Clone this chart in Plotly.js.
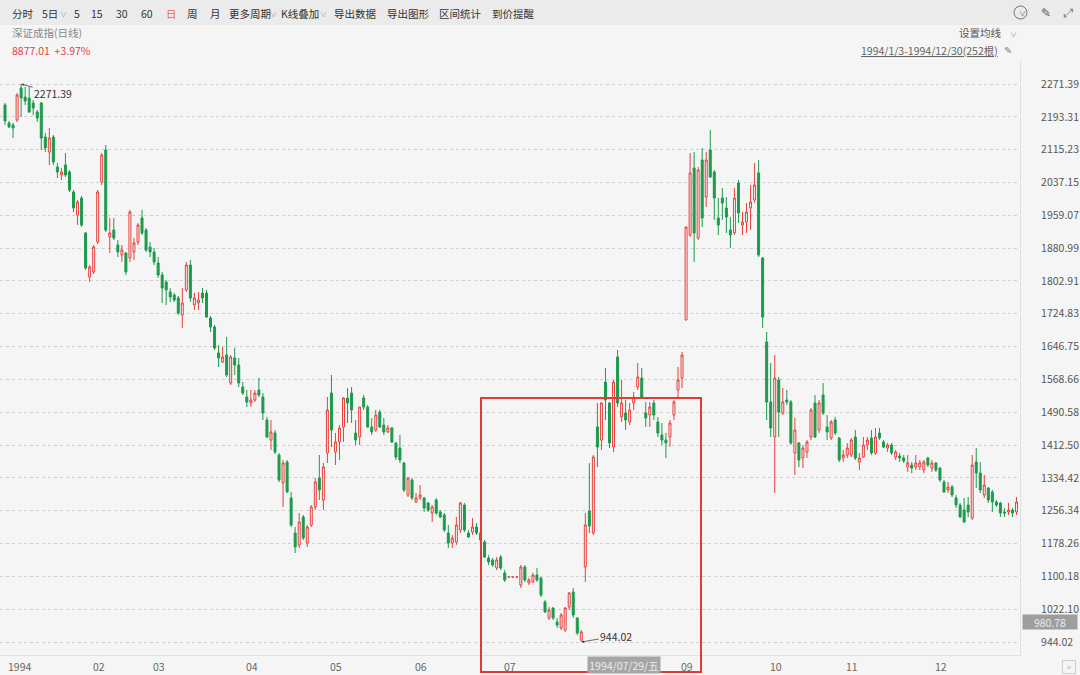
<!DOCTYPE html>
<html>
<head>
<meta charset="utf-8">
<script src="https://cdn.plot.ly/plotly-3.0.1.min.js"></script>
<style>
html,body{margin:0;padding:0;background:#f5f5f5;}
#chart{width:1080px;height:675px;}
</style>
</head>
<body>
<div id="chart"></div>
<script>
// ---------------- DATA ----------------
const indexName = "深证成指(日线)";
const lastQuote = "8877.01  +3.97%";
const periodText = "1994/1/3-1994/12/30(252根)";
const monthLabels = ["1994","02","03","04","05","06","07","08","09","10","11","12"];
const monthStart  = [0, 21, 36, 59, 80, 101, 123, 144, 167, 189, 208, 230];
const hiddenMonth = "08"; // covered by the crosshair date box in the reference
const yTicks = [944.02,1022.10,1100.18,1178.26,1256.34,1334.42,1412.50,1490.58,1568.66,1646.75,1724.83,1802.91,1880.99,1959.07,2037.15,2115.23,2193.31,2271.39];
const highPoint = {idx: 4, value: 2271.39};
const lowPoint  = {idx: 143, value: 944.02};
const crossPrice = "980.78";
const crossDate = "1994/07/29/五";

const open = [
2221.4,2178.6,2173.9,2185.8,2261.9,2240.5,2238.1,2226.2,2204.8,2226.2,2145.3,2109.6,2145.3,2073.9,2054.9,2078.7,2062.1,2014.5,1959.8,2000.2,1917.0,
1812.3,1824.2,1895.5,2038.3,2114.4,1907.4,1924.1,1888.4,1864.6,1869.4,1857.5,1871.8,1895.5,1952.6,1924.1,
1883.6,1871.8,1845.6,1817.1,1800.4,1776.6,1769.5,1762.3,1721.9,1781.4,1840.8,1745.7,1750.4,1774.2,1774.2,1714.8,1693.3,1631.5,1610.1,1626.7,1560.1,1619.6,1602.9,
1550.6,1526.8,1512.6,1519.7,1543.5,1526.8,1472.1,1424.5,1441.2,1388.9,1322.3,1372.2,1286.6,1203.3,1174.8,1241.4,1179.5,1222.3,1265.2,1334.1,1281.8,
1393.6,1536.3,1396.0,1419.8,1455.5,1524.4,1536.3,1441.2,1431.7,1524.4,1503.0,1455.5,1448.3,1491.1,1460.2,1443.6,1453.1,1417.4,1405.5,1369.8,1293.7,
1329.4,1277.1,1286.6,1286.6,1274.7,1250.9,1281.8,1253.3,1246.1,1203.3,1179.5,1181.9,1210.4,1269.9,1203.3,1205.7,1217.6,1203.3,1181.9,1143.8,1139.1,1120.1,
1146.2,1108.2,1098.6,1098.6,1098.6,1079.6,1122.4,1084.4,1086.8,1103.4,1096.3,1039.2,1001.1,1024.9,991.6,977.3,972.6,1027.3,1063.0,1001.1,948.8,
1122.4,1255.6,1203.3,1455.5,1424.5,1562.5,1512.6,1407.9,1622.0,1479.3,1488.8,1467.4,1512.6,1550.6,1572.0,1488.8,1484.0,1512.6,1467.4,1436.5,1424.5,1431.7,1484.0,
1543.5,1572.0,1710.0,1912.2,2071.6,1905.1,2090.6,2002.6,2114.4,2062.1,1952.6,2000.2,1976.4,1924.1,1917.0,2035.9,1936.0,1943.1,1976.4,1995.5,2059.7,1857.5,
1657.7,1514.9,1431.7,1567.3,1488.8,1519.7,1514.9,1393.6,1417.4,1381.7,1396.0,1431.7,1512.6,1448.3,1531.6,1455.5,1429.3,1472.1,1429.3,
1381.7,1388.9,1388.9,1431.7,1372.2,1384.1,1412.6,1429.3,1393.6,1441.2,1419.8,1405.5,1412.6,1384.1,1386.5,1381.7,1360.3,1365.1,1360.3,1360.3,1353.2,1381.7,
1357.9,1369.8,1357.9,1324.6,1305.6,1312.7,1286.6,1269.9,1258.0,1269.9,1239.0,1372.2,1346.0,1293.7,1310.3,1300.8,1277.1,1274.7,1253.3,1253.3,1258.0,1253.3
];
const high = [
2226.2,2183.4,2178.6,2250.0,2271.39,2264.3,2264.3,2233.3,2209.5,2228.6,2154.8,2166.7,2150.1,2083.5,2071.6,2107.2,2066.8,2019.2,1995.5,2005.0,1919.3,
1840.8,1888.4,2019.2,2107.2,2126.3,1952.6,1952.6,1900.3,1888.4,1871.8,1971.7,1905.1,1940.7,1971.7,1928.8,
1895.5,1881.3,1859.9,1824.2,1805.2,1786.1,1774.2,1767.1,1786.1,1848.0,1852.7,1774.2,1776.6,1786.1,1781.4,1719.5,1698.1,1650.5,1645.8,1669.6,1626.7,1643.4,1619.6,
1562.5,1543.5,1543.5,1543.5,1572.0,1536.3,1479.3,1472.1,1448.3,1393.6,1377.0,1377.0,1300.8,1217.6,1250.9,1246.1,1222.3,1269.9,1334.1,1388.9,1369.8,
1526.8,1579.2,1441.2,1460.2,1526.8,1548.2,1550.6,1472.1,1503.0,1531.6,1507.8,1476.9,1495.9,1495.9,1476.9,1460.2,1455.5,1419.8,1436.5,1372.2,1336.5,
1334.1,1298.5,1317.5,1289.0,1277.1,1269.9,1286.6,1258.0,1250.9,1222.3,1198.6,1241.4,1277.1,1274.7,1210.4,1239.0,1227.1,1210.4,1186.7,1150.9,1143.8,1146.2,
1150.9,1115.3,1098.6,1098.6,1098.6,1127.2,1127.2,1096.3,1108.2,1120.1,1098.6,1043.9,1027.3,1027.3,1001.1,1013.0,1027.3,1063.0,1072.5,1003.5,972.6,
1250.9,1369.8,1388.9,1512.6,1514.9,1595.8,1514.9,1567.3,1638.6,1567.3,1519.7,1512.6,1538.7,1607.7,1595.8,1514.9,1514.9,1519.7,1479.3,1465.0,1441.2,1472.1,1519.7,
1598.2,1633.9,1931.2,2107.2,2109.6,2073.9,2119.2,2109.6,2162.0,2066.8,2000.2,2024.0,2002.6,1954.9,2024.0,2043.0,1966.9,1988.3,2031.1,2083.5,2090.6,1859.9,
1681.5,1607.7,1626.7,1574.4,1548.2,1543.5,1519.7,1476.9,1419.8,1412.6,1424.5,1500.7,1531.6,1519.7,1560.1,1484.0,1472.1,1479.3,1431.7,
1400.8,1417.4,1429.3,1448.3,1393.6,1431.7,1431.7,1448.3,1453.1,1453.1,1424.5,1417.4,1417.4,1400.8,1393.6,1388.9,1388.9,1372.2,1388.9,1377.0,1377.0,1384.1,
1377.0,1372.2,1360.3,1329.4,1324.6,1317.5,1293.7,1274.7,1286.6,1289.0,1388.9,1405.5,1372.2,1341.3,1312.7,1305.6,1281.8,1277.1,1262.8,1274.7,1262.8,1289.0
];
const low = [
2173.9,2166.7,2143.0,2181.0,2192.9,2221.4,2202.4,2197.6,2181.0,2114.4,2109.6,2078.7,2078.7,2047.8,2043.0,2050.2,2014.5,1966.9,1936.0,1931.2,1828.9,
1800.4,1819.4,1890.8,2031.1,1919.3,1869.4,1900.3,1859.9,1848.0,1817.1,1848.0,1852.7,1888.4,1912.2,1871.8,
1859.9,1840.8,1810.0,1750.4,1745.7,1752.8,1752.8,1721.9,1691.0,1776.6,1752.8,1733.8,1733.8,1750.4,1714.8,1681.5,1638.6,1598.2,1607.7,1574.2,1555.4,1579.2,1550.6,
1531.6,1503.0,1503.0,1514.9,1526.8,1472.1,1429.3,1400.8,1391.2,1324.6,1265.2,1298.5,1217.6,1155.7,1167.6,1186.7,1170.0,1217.6,1258.0,1281.8,1258.0,
1369.8,1407.9,1365.1,1377.0,1419.8,1465.0,1465.0,1412.6,1412.6,1495.9,1453.1,1436.5,1443.6,1453.1,1436.5,1441.2,1417.4,1377.0,1369.8,1300.8,1288.9,
1281.8,1274.7,1281.8,1253.3,1253.3,1229.5,1246.1,1239.0,1205.7,1167.6,1167.6,1174.8,1203.3,1205.7,1191.4,1198.6,1198.6,1181.9,1143.8,1127.2,1122.4,1115.3,
1115.3,1086.8,1098.6,1098.6,1098.6,1072.5,1086.8,1079.6,1084.4,1086.8,1051.1,1013.0,996.4,996.4,977.3,972.6,967.8,1020.1,1001.1,960.7,944.02,
1086.8,1203.3,1198.6,1360.3,1400.8,1472.1,1405.5,1396.0,1503.0,1467.4,1448.3,1460.2,1495.9,1543.5,1524.4,1455.5,1455.5,1472.1,1431.7,1412.6,1381.7,1407.9,1472.1,
1526.8,1548.2,1710.0,1907.4,1848.0,1900.3,1931.2,1978.8,2047.8,1947.9,1912.2,1947.9,1917.0,1881.3,1912.2,1940.7,1912.2,1917.0,1924.1,1988.3,1859.9,1690.9,
1472.1,1431.7,1298.5,1431.7,1484.0,1507.8,1412.6,1341.3,1360.3,1357.9,1381.7,1424.5,1429.3,1441.2,1484.0,1424.5,1424.5,1436.5,1372.2,
1372.2,1381.7,1384.1,1377.0,1353.2,1381.7,1400.8,1388.9,1388.9,1424.5,1405.5,1396.0,1388.9,1377.0,1372.2,1369.8,1348.4,1345.6,1353.2,1353.2,1345.6,1360.3,
1348.4,1348.4,1324.6,1298.5,1298.5,1288.9,1262.8,1239.0,1227.1,1241.4,1234.2,1310.3,1298.5,1286.6,1274.7,1253.3,1265.2,1241.4,1241.4,1246.1,1241.4,1246.1
];
const close = [
2183.4,2169.1,2166.7,2245.2,2238.1,2231.0,2204.8,2214.3,2190.5,2143.0,2119.2,2143.0,2085.8,2062.1,2062.1,2054.9,2019.2,1976.4,1990.7,1936.0,1833.7,
1836.1,1883.6,2014.5,2102.5,1924.1,1917.0,1905.1,1871.8,1876.5,1824.2,1966.9,1893.2,1936.0,1917.0,1876.5,
1871.8,1848.0,1817.1,1786.1,1781.4,1764.7,1757.6,1726.6,1750.4,1840.8,1762.3,1762.3,1757.6,1762.3,1717.1,1693.3,1643.4,1619.6,1622.0,1579.2,1622.0,1602.9,1560.1,
1536.3,1514.9,1519.7,1536.3,1531.6,1488.8,1431.7,1443.6,1396.0,1329.4,1369.8,1300.8,1222.3,1170.0,1229.5,1191.4,1217.6,1265.2,1324.6,1305.6,1360.3,
1495.9,1448.3,1419.8,1453.1,1524.4,1512.6,1495.9,1424.5,1503.0,1503.0,1455.5,1443.6,1484.0,1455.5,1443.6,1453.1,1419.8,1384.1,1377.0,1305.6,1334.1,
1286.6,1286.6,1293.7,1262.8,1258.0,1265.2,1250.9,1241.4,1210.4,1179.5,1191.4,1222.3,1274.7,1210.4,1193.8,1217.6,1203.3,1186.7,1146.2,1134.3,1127.2,1139.1,
1120.1,1091.5,1098.6,1098.6,1098.6,1122.4,1091.5,1091.5,1103.4,1091.5,1055.8,1015.4,1020.1,1001.1,984.5,1008.2,1024.9,1060.6,1008.2,965.4,967.8,
1222.3,1219.9,1384.1,1407.9,1512.6,1519.7,1417.4,1562.5,1512.6,1512.6,1472.1,1495.9,1526.8,1574.4,1526.8,1476.9,1503.0,1484.0,1441.2,1424.5,1417.4,1465.0,1514.9,
1567.3,1626.7,1931.2,2059.7,1917.0,2066.8,1952.6,2090.6,2050.2,2000.2,1936.0,1988.3,1954.9,1912.2,2000.2,1964.5,1943.1,1966.9,1990.7,2031.1,1864.6,1717.1,
1514.9,1453.1,1572.0,1491.1,1514.9,1514.9,1417.4,1448.3,1377.0,1405.5,1419.8,1495.9,1431.7,1512.6,1488.8,1443.6,1467.4,1441.2,1377.0,
1388.9,1405.5,1424.5,1381.7,1381.7,1412.6,1424.5,1393.6,1431.7,1429.3,1407.9,1412.6,1393.6,1396.0,1381.7,1374.6,1369.8,1357.9,1369.8,1369.8,1372.2,1365.1,
1369.8,1353.2,1329.4,1300.8,1312.7,1293.7,1269.9,1241.4,1229.5,1253.3,1365.1,1346.0,1305.6,1317.5,1281.8,1277.1,1269.9,1250.9,1250.9,1258.0,1250.9,1277.1
];

// ---------------- LAYOUT HELPERS (positions / styles) ----------------
const W = 1080, H = 675, ML = 0, MR = 60, MT = 60, MB = 20;
const PW = W - ML - MR, PH = H - MT - MB;
const px = x => (x - ML) / PW;
const py = y => (H - MB - y) / PH;
const FONT = '"Noto Sans CJK SC","Microsoft YaHei",sans-serif';
const UP = '#e8413e', DOWN = '#1c9a4c';
const vPerPx = (yTicks[yTicks.length-1] - yTicks[0]) / (642 - 84);
const yTop = yTicks[yTicks.length-1] + (84 - MT) * vPerPx;
const yBot = yTicks[0] - (H - MB - 642) * vPerPx;
const xPerPx = 1 / 4.03;
const xLeft = 0 - (5 - ML) * xPerPx;
const xRight = xLeft + PW * xPerPx;

const idx = open.map((_, i) => i);

const trace = {
  type: 'candlestick',
  x: idx, open: open, high: high, low: low, close: close,
  increasing: {line: {color: UP, width: 1}, fillcolor: 'rgba(245,245,245,1)'},
  decreasing: {line: {color: DOWN, width: 1}, fillcolor: DOWN},
  whiskerwidth: 0,
  hoverinfo: 'skip',
  showlegend: false
};

const ann = [];
function txt(text, x, y, opts) {
  ann.push(Object.assign({
    text: text, xref: 'paper', yref: 'paper', x: px(x), y: py(y),
    xanchor: 'left', yanchor: 'middle', showarrow: false,
    font: {family: FONT, size: 11, color: '#333'}
  }, opts || {}));
}
// toolbar
const toolbar = [["分时",10],["5日",40],["5",72],["15",89],["30",114],["60",139],["日",164],["周",185],["月",208],
  ["更多周期",227],["K线叠加",279],["导出数据",332],["导出图形",385],["区间统计",437],["到价提醒",490]];
toolbar.forEach(([t, x]) => txt(t, x, 13, {font: {family: FONT, size: 10.5, color: t === "日" ? '#ef6a3a' : '#333'}}));
[[58],[268],[318]].forEach(([x]) => txt("∨", x, 14, {font: {family: FONT, size: 7, color: '#999'}}));
// header rows
txt(indexName, 10, 33, {font: {family: FONT, size: 10.5, color: '#888'}});
txt(lastQuote, 10, 50, {font: {family: FONT, size: 10.5, color: UP}});
txt("设置均线", 1004, 33, {xanchor: 'right', font: {family: FONT, size: 10.5, color: '#555'}});
txt("∨", 1008, 34, {font: {family: FONT, size: 7, color: '#999'}});
txt("<span style='text-decoration:underline'>" + periodText + "</span>", 1000, 50, {xanchor: 'right', font: {family: FONT, size: 10.5, color: '#666'}});
txt("✎", 1002, 50, {font: {family: 'DejaVu Sans', size: 10, color: '#888'}});
// top right icons
txt("∨", 1017, 13, {font: {family: FONT, size: 7, color: '#666'}});
txt("✎", 1039, 13, {font: {family: 'DejaVu Sans', size: 12, color: '#555'}});
txt("⤢", 1061, 13, {font: {family: 'DejaVu Sans', size: 12, color: '#777'}});
// x month labels (the August one sits under the crosshair date box)
monthLabels.forEach((m, i) => {
  if (m === hiddenMonth) return;
  ann.push({
    text: m, xref: 'x', yref: 'paper', x: monthStart[i], y: py(666), xshift: 1,
    xanchor: 'left', yanchor: 'middle', showarrow: false,
    font: {family: FONT, size: 10.5, color: '#666'}
  });
});
// extreme labels
ann.push({text: highPoint.value.toFixed(2), xref: 'x', yref: 'y', x: highPoint.idx, y: highPoint.value,
  ax: 32, ay: 9, showarrow: true, arrowhead: 2, arrowsize: 0.7, arrowwidth: 0.8, arrowcolor: '#444',
  font: {family: FONT, size: 10.5, color: '#333'}});
ann.push({text: lowPoint.value.toFixed(2), xref: 'x', yref: 'y', x: lowPoint.idx, y: lowPoint.value,
  ax: 35, ay: -6, showarrow: true, arrowhead: 2, arrowsize: 0.7, arrowwidth: 0.8, arrowcolor: '#444',
  font: {family: FONT, size: 10.5, color: '#333'}});
// crosshair boxes
ann.push({text: crossPrice, xref: 'paper', yref: 'paper', x: px(1050), y: py(622), xanchor: 'center', yanchor: 'middle',
  showarrow: false, bgcolor: '#9e9e9e', width: 52, height: 12, font: {family: FONT, size: 10.5, color: '#ececec'}});
ann.push({text: crossDate, xref: 'paper', yref: 'paper', x: px(624), y: py(665), xanchor: 'center', yanchor: 'middle',
  showarrow: false, bgcolor: '#a6a6a6', width: 70, height: 14, font: {family: FONT, size: 10.5, color: '#ededed'}});
// bottom right nav button
ann.push({text: "»", xref: 'paper', yref: 'paper', x: px(1069), y: py(667), xanchor: 'center', yanchor: 'middle',
  showarrow: false, bordercolor: '#cfcfcf', borderwidth: 1, width: 10, height: 10, font: {family: 'DejaVu Sans', size: 9, color: '#bbb'}});

const shapes = [
  {type: 'rect', xref: 'paper', yref: 'paper', x0: px(0), x1: px(W), y0: py(25), y1: py(0),
   fillcolor: '#ebebeb', line: {width: 0}, layer: 'below'},
  {type: 'circle', xref: 'paper', yref: 'paper', x0: px(1014), x1: px(1027), y0: py(19), y1: py(6),
   line: {color: '#777', width: 1}},
  {type: 'rect', xref: 'paper', yref: 'paper', x0: px(481), x1: px(701), y0: py(672), y1: py(398),
   line: {color: '#e23a35', width: 2}}
];

const layout = {
  width: W, height: H,
  margin: {l: ML, r: MR, t: MT, b: MB, pad: 0},
  paper_bgcolor: '#f5f5f5', plot_bgcolor: '#f5f5f5',
  showlegend: false,
  xaxis: {range: [xLeft, xRight], showgrid: false, zeroline: false, showticklabels: false,
    showline: true, linecolor: '#e0e0e0', linewidth: 1, rangeslider: {visible: false}, fixedrange: true},
  yaxis: {range: [yBot, yTop], side: 'right', tickvals: yTicks, ticktext: yTicks.map(v => v.toFixed(2)),
    showgrid: true, gridcolor: '#cfcfcf', griddash: 'dot', gridwidth: 1, zeroline: false,
    showline: true, linecolor: '#e0e0e0', linewidth: 1, ticks: '', ticklabelstandoff: 18,
    tickfont: {family: FONT, size: 10.5, color: '#555'}, fixedrange: true},
  annotations: ann,
  shapes: shapes
};

Plotly.newPlot('chart', [trace], layout, {staticPlot: true, displayModeBar: false});
</script>
</body>
</html>
